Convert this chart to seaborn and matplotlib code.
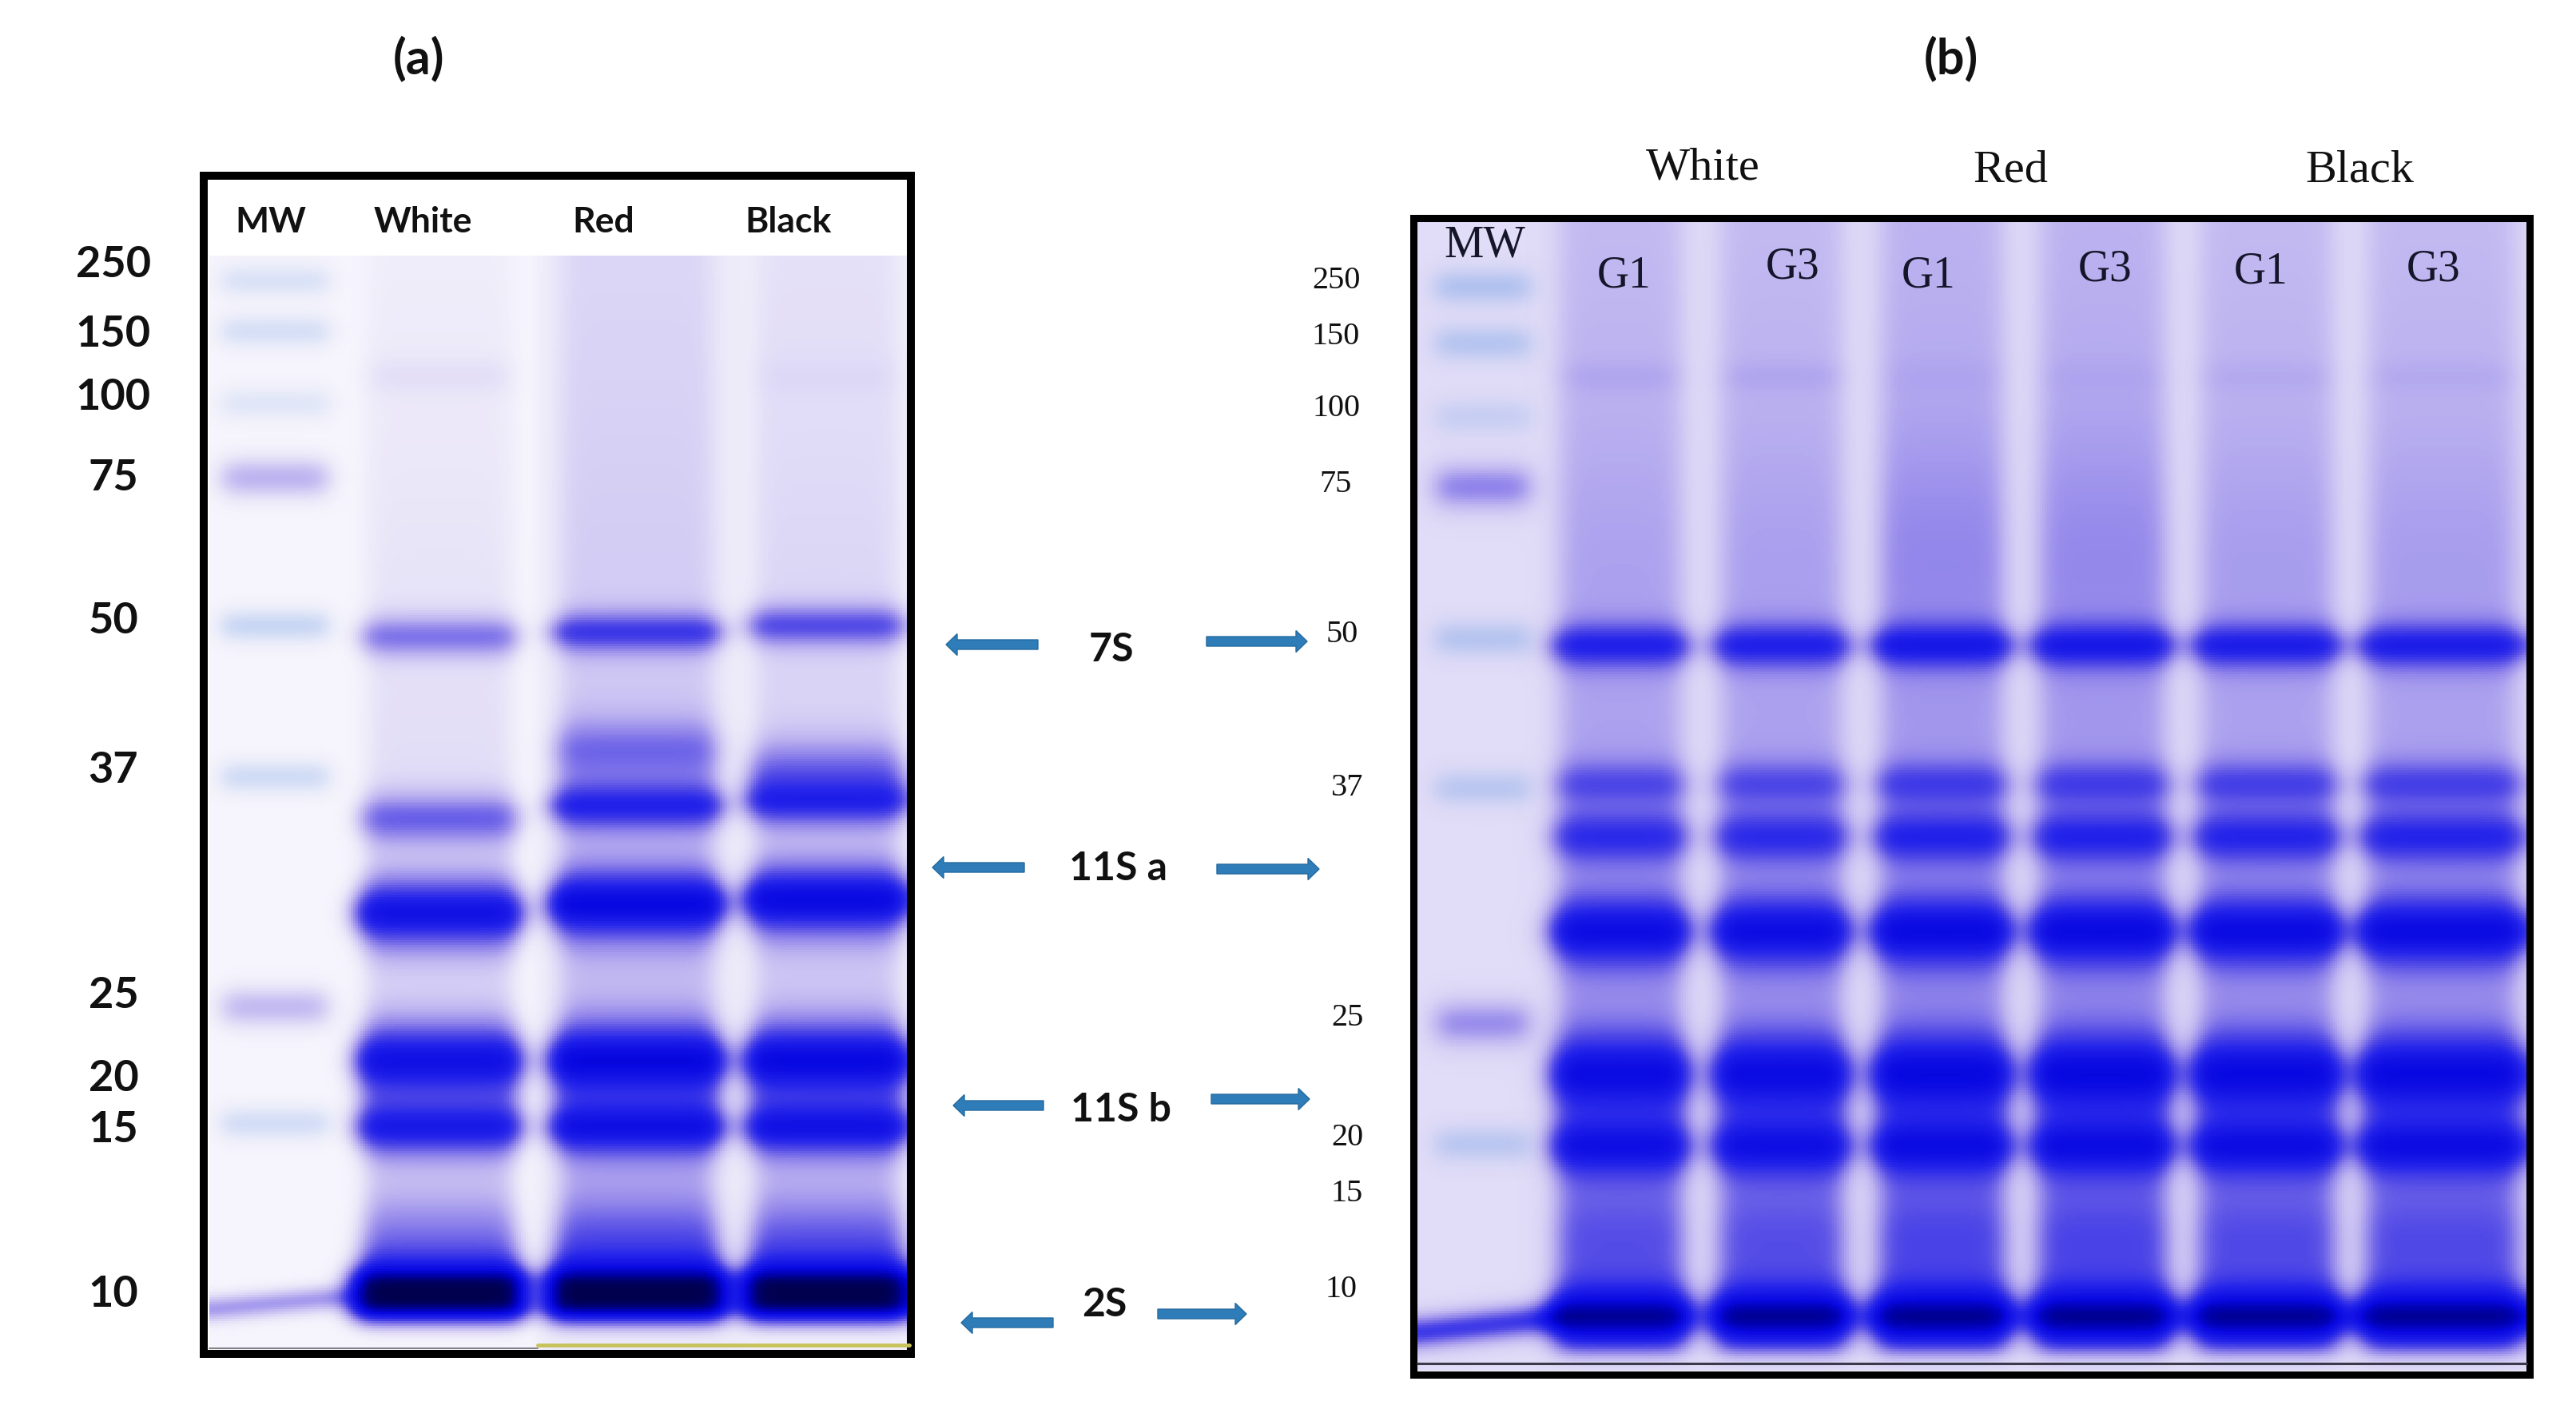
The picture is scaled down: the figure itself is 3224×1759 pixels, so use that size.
import numpy as np
import pandas as pd
import seaborn as sns
import matplotlib.pyplot as plt
from matplotlib.colors import LinearSegmentedColormap
from matplotlib.patches import Rectangle, FancyArrow

# ---------------------------------------------------------------
# values read off the two gels
# migration = distance from the top of the gel / length of the gel
# ---------------------------------------------------------------
ladder_kda = ["250", "150", "100", "75", "50", "37", "25", "20", "15", "10"]

# ---- gel (a)
lanes_a = ["MW", "White", "Red", "Black"]
mw_a_pos = [0.023, 0.069, 0.135, 0.203, 0.338, 0.476, 0.687, 0.793]
mw_a_amp = [0.28, 0.32, 0.22, 0.33, 0.45, 0.38, 0.30, 0.35]
mw_kind = ["blue", "blue", "blue", "purple", "blue", "blue", "purple", "blue"]

sig_a = [0.011, 0.012, 0.020, 0.016, 0.024, 0.026, 0.019, 0.030, 0.022]
white_a_pos = [0.110, 0.348, 0.470, 0.515, 0.601, 0.736, 0.797, 0.900, 0.949]
white_a_amp = [0.06, 0.48, 0.00, 0.50, 0.80, 0.80, 0.74, 0.35, 1.30]
red_a_pos = [0.110, 0.344, 0.452, 0.503, 0.593, 0.736, 0.797, 0.900, 0.949]
red_a_amp = [0.00, 0.64, 0.40, 0.70, 0.84, 0.84, 0.78, 0.40, 1.30]
black_a_pos = [0.110, 0.338, 0.470, 0.499, 0.589, 0.736, 0.797, 0.900, 0.949]
black_a_amp = [0.03, 0.58, 0.40, 0.68, 0.84, 0.84, 0.78, 0.40, 1.30]

# ---- gel (b)
groups_b = ["White", "Red", "Black"]
lanes_b = ["MW", "G1", "G3", "G1", "G3", "G1", "G3"]
mw_b_pos = [0.057, 0.106, 0.170, 0.231, 0.363, 0.493, 0.698, 0.803]
mw_b_amp = [0.55, 0.50, 0.30, 0.40, 0.50, 0.45, 0.36, 0.45]

band_b_pos = [0.135, 0.290, 0.369, 0.489, 0.536, 0.618, 0.742, 0.805, 0.885, 0.953]
sig_b = [0.008, 0.070, 0.013, 0.013, 0.016, 0.022, 0.026, 0.019, 0.035, 0.020]
amp_b = [
    [0.07, 0.04, 0.66, 0.42, 0.56, 0.76, 0.76, 0.72, 0.28, 0.95],  # White G1
    [0.07, 0.05, 0.66, 0.42, 0.56, 0.76, 0.76, 0.72, 0.28, 0.95],  # White G3
    [0.03, 0.13, 0.70, 0.46, 0.60, 0.78, 0.78, 0.74, 0.30, 0.95],  # Red G1
    [0.03, 0.12, 0.69, 0.45, 0.60, 0.78, 0.78, 0.74, 0.30, 0.95],  # Red G3
    [0.05, 0.06, 0.68, 0.46, 0.60, 0.78, 0.78, 0.74, 0.30, 0.95],  # Black G1
    [0.05, 0.06, 0.68, 0.46, 0.60, 0.78, 0.78, 0.74, 0.30, 0.95],  # Black G3
]

band_labels = ["7S", "11S a", "11S b", "2S"]

# ---------------------------------------------------------------
W, H = 3224, 1759
sns.set_theme(style="white")
plt.rcParams['font.family'] = ['Lato', 'DejaVu Sans']
SERIF = ['Liberation Serif', 'DejaVu Serif']

gel_cmap = LinearSegmentedColormap.from_list("coomassie", [
    (0.00, "#F9F8FD"), (0.08, "#ECE9F9"), (0.18, "#D8D2F5"), (0.30, "#BDB3F0"),
    (0.45, "#8E82EA"), (0.60, "#5048E6"), (0.72, "#2424EA"), (0.86, "#0808E2"),
    (0.94, "#0000A8"), (1.00, "#00004E")])
mw_cmap = LinearSegmentedColormap.from_list("ladder", [
    (0.50, 0.66, 0.90, 0.0), (0.45, 0.62, 0.90, 0.9)])


def bands(r, pos, sig, amp):
    keep = np.ones_like(r)
    for p, s, a in zip(pos, sig, amp):
        keep *= 1 - np.clip(a * np.exp(-0.5 * ((r - p) / s) ** 2), 0, 1)
    return 1 - keep


def orr(a, b):
    return 1 - (1 - a) * (1 - b)


def lane_mask(c, centre, half, edge, prof, bulge=0.28):
    hw = half * (1 + bulge * np.clip(prof, 0, 1) ** 1.5)[:, None]
    return 0.5 * (np.tanh((c[None, :] - centre + hw) / edge)
                  - np.tanh((c[None, :] - centre - hw) / edge))


def front(r, c, f0, f1, c_end, amp, sig, edge):
    rc = f0 + (f1 - f0) * np.clip(c / c_end, 0, 1)
    g = amp * np.exp(-0.5 * ((r[:, None] - rc[None, :]) / sig) ** 2)
    return g * 0.5 * (1 - np.tanh((c[None, :] - c_end) / edge))


def soften(img, s):
    # gel photos are a little out of focus
    x = np.arange(-3 * s, 3 * s + 1)
    k = np.exp(-0.5 * (x / s) ** 2)
    k /= k.sum()
    n = len(k) // 2
    out = np.pad(img, n, mode="edge")
    out = np.apply_along_axis(lambda v: np.convolve(v, k, mode="same"), 0, out)
    out = np.apply_along_axis(lambda v: np.convolve(v, k, mode="same"), 1, out)
    return out[n:-n, n:-n]


# ---------------- gel (a) image ----------------
ny_a, nx_a = 457, 292
r = (np.arange(ny_a) + 0.5) / ny_a
c = (np.arange(nx_a) + 0.5) / nx_a
edge_a = 0.014
fade_a = 0.5 * (1 - np.tanh((r - 0.978) / 0.005))
img_a = np.where(c < 0.469, 0.02, np.where(c < 0.763, 0.07, 0.05))[None, :] * np.ones((ny_a, 1))

centres_a = [0.094, 0.329, 0.611, 0.882]
halves_a = [0.076, 0.103, 0.108, 0.101]
mw_pos = np.array(mw_a_pos)
mw_amp = np.array(mw_a_amp)
kind = np.array(mw_kind)
purple = bands(r, mw_pos[kind == "purple"], [0.011] * 2, mw_amp[kind == "purple"])
blue = bands(r, mw_pos[kind == "blue"], [0.009] * 6, mw_amp[kind == "blue"])
m = lane_mask(c, centres_a[0], halves_a[0], edge_a, purple, 0)
img_a = orr(img_a, m * purple[:, None])
blue_a = m * blue[:, None]

bases_a = [(0.04, 0.16), (0.10, 0.16), (0.07, 0.16)]
for k, (pos, amp) in enumerate([(white_a_pos, white_a_amp), (red_a_pos, red_a_amp),
                                (black_a_pos, black_a_amp)]):
    B = bands(r, pos, sig_a, amp)
    prof = orr(bases_a[k][0] + bases_a[k][1] * r, B) * fade_a
    m = lane_mask(c, centres_a[k + 1], halves_a[k + 1], edge_a, B)
    img_a = orr(img_a, m * prof[:, None])
img_a = orr(img_a, front(r, c, 0.963, 0.950, 0.22, 0.6, 0.005, edge_a))
img_a = np.clip(soften(img_a, 3), 0, 1)
blue_a = np.clip(soften(blue_a, 2), 0, 1)

# ---------------- gel (b) image ----------------
ny_b, nx_b = 480, 463
rb = (np.arange(ny_b) + 0.5) / ny_b
cb = (np.arange(nx_b) + 0.5) / nx_b
edge_b = 0.010
fade_b = 0.5 * (1 - np.tanh((rb - 0.986) / 0.004))
img_b = np.full((ny_b, nx_b), 0.14)

centres_b = [0.059, 0.183, 0.328, 0.473, 0.618, 0.766, 0.924]
halves_b = [0.0425, 0.055, 0.055, 0.056, 0.057, 0.060, 0.067]
mw_pos = np.array(mw_b_pos)
mw_amp = np.array(mw_b_amp)
purple = bands(rb, mw_pos[kind == "purple"], [0.012] * 2, mw_amp[kind == "purple"])
blue = bands(rb, mw_pos[kind == "blue"], [0.010] * 6, mw_amp[kind == "blue"])
m = lane_mask(cb, centres_b[0], halves_b[0], edge_b, purple, 0)
img_b = orr(img_b, m * purple[:, None])
blue_b = m * blue[:, None]

for k, amp in enumerate(amp_b):
    B = bands(rb, band_b_pos, sig_b, amp)
    b0 = 0.19 if k in (2, 3) else 0.16
    prof = orr(b0 + 0.20 * rb, B) * fade_b
    m = lane_mask(cb, centres_b[k + 1], halves_b[k + 1], edge_b, B)
    img_b = orr(img_b, m * prof[:, None])
img_b = orr(img_b, front(rb, cb, 0.967, 0.953, 0.135, 0.75, 0.008, edge_b))
img_b = np.clip(soften(img_b, 3), 0, 1)
blue_b = np.clip(soften(blue_b, 2), 0, 1)

# ---------------- figure ----------------
fig = plt.figure(figsize=(W / 100, H / 100), dpi=100)
fig.patch.set_facecolor("white")


def draw_gel(rect, img, blue_img):
    l, t, rr, bb = rect
    ax = fig.add_axes([l / W, 1 - bb / H, (rr - l) / W, (bb - t) / H])
    sns.heatmap(pd.DataFrame(img), ax=ax, cmap=gel_cmap, vmin=0, vmax=1, cbar=False,
                xticklabels=False, yticklabels=False, rasterized=True)
    sns.heatmap(pd.DataFrame(blue_img), ax=ax, cmap=mw_cmap, vmin=0, vmax=1, cbar=False,
                xticklabels=False, yticklabels=False, rasterized=True)
    ax.set_axis_off()
    return ax


draw_gel((262, 320, 1138, 1690), img_a, blue_a)
draw_gel((1774, 277, 3162, 1716), img_b, blue_b)

ov = fig.add_axes([0, 0, 1, 1], zorder=10)
ov.set_xlim(0, W)
ov.set_ylim(H, 0)
ov.axis("off")
ov.patch.set_alpha(0)

# gel bottoms
ov.plot([673, 1138], [1684, 1684], color="#C8C25C", lw=3.5)
ov.plot([262, 673], [1688, 1688], color="#6a6a70", lw=1.2)
ov.plot([1774, 3162], [1707, 1707], color="#3a3a4a", lw=2.2)

# frames
ov.add_patch(Rectangle((255, 220), 885, 1475, fill=False, ec="black", lw=7.2))
ov.add_patch(Rectangle((1769, 272.5), 1397, 1448.5, fill=False, ec="black", lw=6.5))

ink = "#111111"
ov.text(524, 73, "(a)", fontsize=44, fontweight="bold", ha="center", va="center", color=ink)
ov.text(2442, 73, "(b)", fontsize=44, fontweight="bold", ha="center", va="center", color=ink)

# panel (a) labels
for name, x in zip(lanes_a, [339, 529, 755, 987]):
    ov.text(x, 278, name, fontsize=32, fontweight="bold", ha="center", va="center", color=ink)
for lab, y in zip(ladder_kda, [331, 418, 497, 598, 777, 964, 1247, 1351, 1415, 1620]):
    ov.text(142, y, lab, fontsize=39, fontweight="bold", ha="center", va="center", color=ink)

# panel (b) labels
for name, x, y in zip(groups_b, [2131, 2516, 2953], [210, 213, 213]):
    ov.text(x, y, name, fontsize=42, family=SERIF, ha="center", va="center", color=ink)
for name, x, y in zip(lanes_b, [1858, 2033, 2244, 2414, 2635, 2830, 3046],
                      [307, 345, 334, 345, 337, 340, 337]):
    ov.text(x, y, name, fontsize=40, family=SERIF, ha="center", va="center", color="#15152a")
for lab, x, y in zip(ladder_kda, [1672, 1672, 1672, 1672, 1680, 1686, 1686, 1686, 1686, 1679],
                     [351, 421, 511, 606, 794, 986, 1275, 1424, 1494, 1614]):
    ov.text(x, y, lab, fontsize=29, family=SERIF, ha="center", va="center", color=ink)

# protein fraction labels with arrows towards both gels
label_xy = [(1391, 813), (1399, 1087), (1403, 1390), (1382, 1634)]
left_arrows = [(1299, 1184, 807), (1282, 1167, 1086), (1306, 1193, 1384), (1318, 1203, 1656)]
right_arrows = [(1510, 1636, 803), (1523, 1651, 1088), (1516, 1639, 1376), (1449, 1560, 1645)]
for lab, (tx, ty), la, ra in zip(band_labels, label_xy, left_arrows, right_arrows):
    ov.text(tx, ty, lab, fontsize=36, fontweight="bold", ha="center", va="center", color=ink)
    for tail, tip, y in (la, ra):
        ov.add_patch(FancyArrow(tail, y, tip - tail, 0, width=12, head_width=27,
                                head_length=14, length_includes_head=True,
                                fc="#2E7DB9", ec="#256A9E", lw=1))

fig.savefig("out.png", dpi=100, facecolor="white")
